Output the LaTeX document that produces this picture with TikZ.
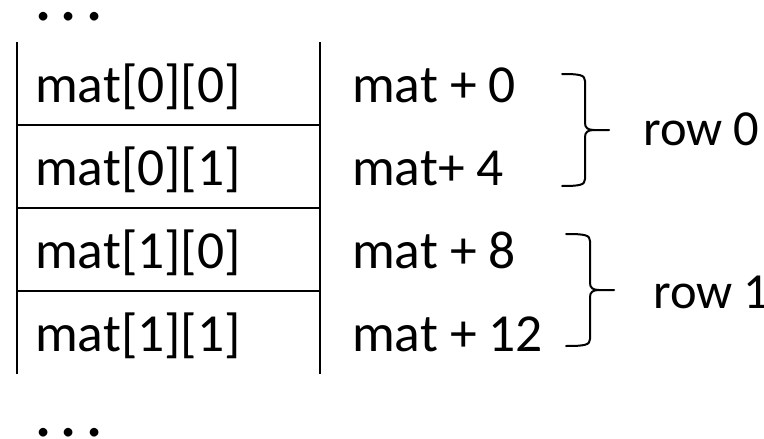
\documentclass[tikz,border=0pt]{standalone}
\usepackage{fontspec}
\setmainfont{Carlito}
% right-hand curly brace: stub start x, spine x, top y, middle y, bottom y, tip x
\newcommand{\rowbrace}[6]{%
  \draw[bracepath] (#1,#3) .. controls (#2-5,#3) and (#2,#3+1) .. (#2,#3+7)
    -- (#2,#4-7) .. controls (#2,#4-2) and (#2+3,#4) .. (#2+9,#4) -- (#6,#4);
  \draw[bracepath] (#2+9,#4) .. controls (#2+3,#4) and (#2,#4+2) .. (#2,#4+7)
    -- (#2,#5-7) .. controls (#2,#5-1) and (#2-5,#5) .. (#1,#5);
}
\begin{document}
\begin{tikzpicture}[x=1pt,y=-1pt,
  txt/.style={anchor=base west,inner sep=0pt,font=\fontsize{53.5}{64}\selectfont},
  lbl/.style={anchor=base west,inner sep=0pt,font=\fontsize{50.5}{60}\selectfont},
  dots/.style={anchor=base west,inner sep=0pt,text height=8pt,text depth=0pt,
    font=\fontsize{72}{80}\selectfont},
  rule/.style={line width=2.2pt},
  bracepath/.style={line width=2pt,line join=round,line cap=round}]
\useasboundingbox (0,0) rectangle (764,439);

% memory column: outer walls and cell separators
\draw[rule] (17,42) -- (17,374);
\draw[rule] (320,42) -- (320,374);
\foreach \y in {125,208,291} \draw[rule] (17,\y) -- (320,\y);

% ellipses above and below
\node[dots] (dtop) at (34,20.5) {.\hspace{7.7pt}.\hspace{7.7pt}.};
\node[dots] (dbot) at (34,436) {.\hspace{7.7pt}.\hspace{7.7pt}.};

% element names
\node[txt] (e00) at (35,102) {mat[0][0]};
\node[txt] (e01) at (35,185) {mat[0][1]};
\node[txt] (e10) at (35,268) {mat[1][0]};
\node[txt] (e11) at (35,351) {mat[1][1]};

% addresses
\node[txt] (a0) at (352,102) {mat + 0};
\node[txt] (a4) at (352,185) {mat+ 4};
\node[txt] (a8) at (352,268) {mat + 8};
\node[txt] (a12) at (352,351) {mat + 12};

% row braces and labels
\rowbrace{562}{585}{74}{130}{186}{609}
\rowbrace{566}{590}{234}{290}{346}{614}
\node[lbl] (r0) at (643,145) {row 0};
\node[lbl] (r1) at (653,308) {row 1};
\end{tikzpicture}
\end{document}
